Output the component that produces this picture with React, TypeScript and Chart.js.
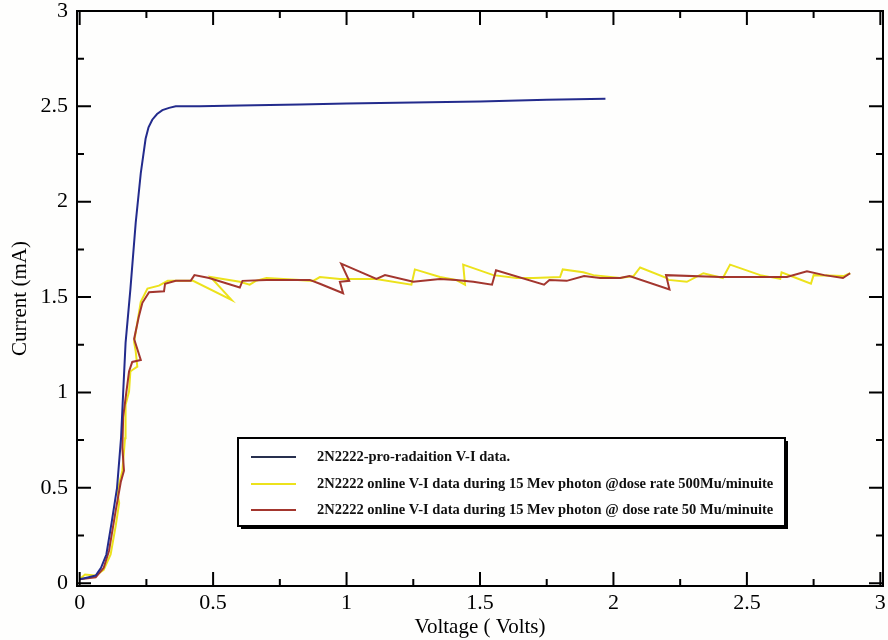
import React, { useEffect, useRef } from "react";
import { Chart, registerables } from "chart.js";

Chart.register(...registerables);

// ---- data (Voltage in Volts, Current in mA) ----
const preV = [0, 0.03, 0.06, 0.08, 0.1, 0.12, 0.14, 0.155, 0.163, 0.172, 0.19, 0.21, 0.229, 0.247, 0.258, 0.272, 0.29, 0.31, 0.335, 0.36, 0.45, 0.6, 0.825, 1.0, 1.25, 1.5, 1.75, 1.97];
const preI = [0.02, 0.03, 0.04, 0.08, 0.15, 0.32, 0.5, 0.76, 1.0, 1.26, 1.54, 1.89, 2.15, 2.33, 2.39, 2.43, 2.46, 2.48, 2.492, 2.5, 2.5, 2.505, 2.51, 2.515, 2.52, 2.525, 2.535, 2.54];

const hiV = [0, 0.02, 0.06, 0.09, 0.116, 0.135, 0.148, 0.141, 0.16, 0.17, 0.172, 0.185, 0.19, 0.2, 0.216, 0.21, 0.204, 0.229, 0.254, 0.297, 0.33, 0.425, 0.569, 0.49, 0.6, 0.637, 0.66, 0.7, 0.875, 0.9, 0.975, 1.11, 1.243, 1.256, 1.35, 1.41, 1.444, 1.437, 1.55, 1.637, 1.7, 1.8, 1.81, 1.887, 1.925, 2.025, 2.075, 2.1, 2.2, 2.206, 2.275, 2.337, 2.41, 2.437, 2.55, 2.625, 2.63, 2.675, 2.74, 2.75, 2.862, 2.887];
const hiI = [0.02, 0.045, 0.04, 0.07, 0.15, 0.3, 0.42, 0.48, 0.59, 0.76, 0.935, 1.005, 1.11, 1.12, 1.135, 1.215, 1.265, 1.475, 1.545, 1.56, 1.585, 1.585, 1.485, 1.605, 1.58, 1.565, 1.585, 1.6, 1.585, 1.605, 1.595, 1.595, 1.565, 1.645, 1.605, 1.59, 1.565, 1.67, 1.615, 1.6, 1.6, 1.605, 1.645, 1.63, 1.615, 1.6, 1.61, 1.655, 1.6, 1.59, 1.58, 1.625, 1.6, 1.67, 1.615, 1.595, 1.63, 1.605, 1.57, 1.615, 1.61, 1.625];

const loV = [0, 0.03, 0.06, 0.09, 0.11, 0.135, 0.154, 0.166, 0.16, 0.163, 0.172, 0.185, 0.197, 0.229, 0.204, 0.222, 0.235, 0.26, 0.316, 0.32, 0.36, 0.416, 0.43, 0.485, 0.6, 0.61, 0.7, 0.862, 0.9, 0.987, 0.975, 1.01, 0.98, 1.112, 1.144, 1.25, 1.35, 1.41, 1.475, 1.545, 1.56, 1.74, 1.76, 1.825, 1.89, 1.95, 2.025, 2.06, 2.21, 2.197, 2.4, 2.65, 2.725, 2.79, 2.86, 2.887];
const loI = [0.02, 0.025, 0.03, 0.08, 0.17, 0.38, 0.53, 0.59, 0.71, 0.87, 0.97, 1.11, 1.16, 1.17, 1.28, 1.4, 1.47, 1.525, 1.53, 1.57, 1.585, 1.585, 1.615, 1.6, 1.55, 1.585, 1.59, 1.59, 1.57, 1.52, 1.58, 1.585, 1.675, 1.595, 1.615, 1.58, 1.595, 1.59, 1.58, 1.565, 1.64, 1.565, 1.59, 1.585, 1.61, 1.6, 1.6, 1.61, 1.54, 1.615, 1.605, 1.605, 1.635, 1.615, 1.6, 1.625];

const seriesLabels = [
  "2N2222-pro-radaition V-I data.",
  "2N2222 online V-I data during 15 Mev photon @dose rate 500Mu/minuite",
  "2N2222 online V-I data during 15 Mev photon @ dose rate 50 Mu/minuite",
];
const seriesColors = ["#232b8c", "#ece21c", "#a3362e"];
const legendSampleColors = ["#28304f", "#ece21c", "#a3362e"];

const xTitle = "Voltage ( Volts)";
const yTitle = "Current (mA)";

const SERIF = "'Liberation Serif', 'Times New Roman', serif";

const toPoints = (v: number[], i: number[]) => v.map((x, k) => ({ x, y: i[k] }));
const fmt = (v: any) => String(+Number(v).toFixed(2));

export default function App() {
  const ref = useRef<HTMLCanvasElement>(null);

  useEffect(() => {
    if (!ref.current) return;

    const framePlugin = {
      id: "frameTicksLegend",
      beforeDraw(chart: any) {
        const { ctx, width, height } = chart;
        ctx.save();
        ctx.fillStyle = "#fefefd";
        ctx.fillRect(0, 0, width, height);
        ctx.restore();
      },
      afterDatasetsDraw(chart: any) {
        const { ctx, chartArea: a, scales } = chart;
        const xs = scales.x;
        const ys = scales.y;
        ctx.save();
        ctx.strokeStyle = "#000";
        ctx.lineWidth = 2;
        ctx.strokeRect(a.left, a.top, a.right - a.left, a.bottom - a.top);

        const major = 14;
        const minor = 7;
        const xMaj = xs.ticks.map((t: any) => t.value);
        const yMaj = ys.ticks.map((t: any) => t.value);
        const mids = (arr: number[]) => arr.slice(1).map((v, k) => (v + arr[k]) / 2);
        ctx.lineWidth = 2;
        ctx.beginPath();
        const xt = (vals: number[], len: number) => {
          for (const v of vals) {
            const px = xs.getPixelForValue(v);
            ctx.moveTo(px, a.bottom);
            ctx.lineTo(px, a.bottom - len);
            ctx.moveTo(px, a.top);
            ctx.lineTo(px, a.top + len);
          }
        };
        const yt = (vals: number[], len: number) => {
          for (const v of vals) {
            const py = ys.getPixelForValue(v);
            ctx.moveTo(a.left, py);
            ctx.lineTo(a.left + len, py);
            ctx.moveTo(a.right, py);
            ctx.lineTo(a.right - len, py);
          }
        };
        xt(xMaj, major);
        xt(mids(xMaj), minor);
        yt(yMaj, major);
        yt(mids(yMaj), minor);
        ctx.stroke();
        ctx.restore();
      },
      afterDraw(chart: any, _args: any, opts: any) {
        const { ctx } = chart;
        const { left, top, right, bottom, rows, lineX0, lineX1, textX } = opts;
        ctx.save();
        // drop shadow
        ctx.fillStyle = "#000";
        ctx.fillRect(left + 3, top + 3, right - left, bottom - top);
        ctx.fillStyle = "#ffffff";
        ctx.fillRect(left, top, right - left, bottom - top);
        ctx.strokeStyle = "#000";
        ctx.lineWidth = 2;
        ctx.strokeRect(left, top, right - left, bottom - top);
        ctx.font = `bold 14.5px ${SERIF}`;
        ctx.textBaseline = "middle";
        ctx.textAlign = "left";
        chart.data.datasets.forEach((ds: any, k: number) => {
          const y = rows[k];
          ctx.strokeStyle = legendSampleColors[k] || ds.borderColor;
          ctx.lineWidth = 2;
          ctx.beginPath();
          ctx.moveTo(lineX0, y);
          ctx.lineTo(lineX1, y);
          ctx.stroke();
          ctx.fillStyle = "#111";
          ctx.fillText(ds.label, textX, y);
        });
        ctx.restore();
      },
    };

    const chart = new Chart(ref.current, {
      type: "line",
      data: {
        datasets: [
          { label: seriesLabels[0], data: toPoints(preV, preI), borderColor: seriesColors[0], order: 0 },
          { label: seriesLabels[1], data: toPoints(hiV, hiI), borderColor: seriesColors[1], order: 2 },
          { label: seriesLabels[2], data: toPoints(loV, loI), borderColor: seriesColors[2], order: 1 },
        ].map((d) => ({
          ...d,
          borderWidth: 2,
          pointRadius: 0,
          pointHoverRadius: 0,
          tension: 0,
          fill: false,
        })),
      },
      options: {
        animation: false,
        responsive: false,
        maintainAspectRatio: false,
        events: [],
        layout: { padding: { top: 11, right: 5, left: 0, bottom: 0 } },
        plugins: {
          legend: { display: false },
          tooltip: { enabled: false },
          frameTicksLegend: {
            left: 238,
            top: 438,
            right: 785,
            bottom: 526,
            rows: [457, 484, 510],
            lineX0: 251,
            lineX1: 296,
            textX: 317,
          },
        } as any,
        scales: {
          x: {
            type: "linear",
            min: -0.01,
            max: 3.01,
            grid: { display: false, drawTicks: false },
            border: { display: false },
            ticks: {
              stepSize: 0.5,
              includeBounds: false,
              autoSkip: false,
              maxRotation: 0,
              padding: 4,
              color: "#000",
              font: { family: SERIF, size: 22 },
              callback: fmt,
            },
            title: {
              display: true,
              text: xTitle,
              color: "#000",
              font: { family: SERIF, size: 21 },
              padding: { top: 0, bottom: 0 },
            },
            afterFit(scale: any) {
              scale.height = 54;
              scale.paddingLeft = 0;
              scale.paddingRight = 0;
            },
          },
          y: {
            type: "linear",
            min: -0.015,
            max: 3,
            grid: { display: false, drawTicks: false },
            border: { display: false },
            ticks: {
              stepSize: 0.5,
              includeBounds: false,
              autoSkip: false,
              padding: 9,
              color: "#000",
              font: { family: SERIF, size: 22 },
              callback: fmt,
            },
            title: {
              display: true,
              text: yTitle,
              color: "#000",
              font: { family: SERIF, size: 21 },
              padding: { top: 8, bottom: 0 },
            },
            afterFit(scale: any) {
              scale.width = 77;
              scale.paddingTop = 0;
              scale.paddingBottom = 0;
            },
          },
        },
      } as any,
      plugins: [framePlugin as any],
    });

    return () => chart.destroy();
  }, []);

  return (
    <div style={{ position: "absolute", left: 0, top: 0, width: 888, height: 640 }}>
      <canvas ref={ref} width={888} height={640} style={{ width: 888, height: 640, display: "block" }} />
    </div>
  );
}
